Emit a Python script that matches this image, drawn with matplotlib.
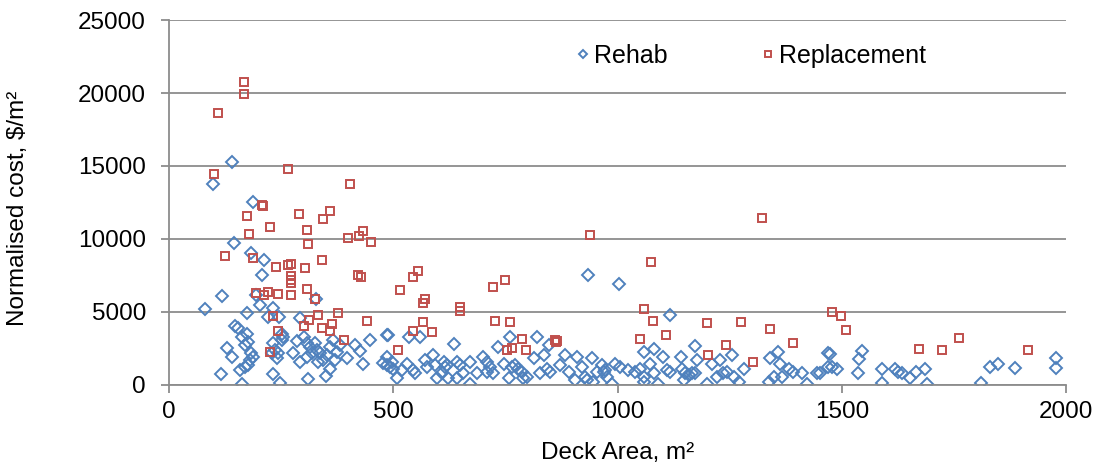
import numpy as np
import matplotlib
matplotlib.use("Agg")
import matplotlib.pyplot as plt

plt.rcParams["font.family"] = ["Liberation Sans", "DejaVu Sans"]

# Rehab points (deck area m2, normalised cost $/m2)
rehab_area = [
    140, 98, 187, 144, 182, 212, 207, 118, 193, 202, 233, 328, 81, 173, 245, 221, 292,
    147, 155, 116, 162, 248, 310, 349,
    173, 162, 177, 169, 129, 140, 184, 188, 181, 177, 158, 169,
    233, 236, 244, 229, 240, 251, 255, 251, 233, 276,
    285, 300, 307, 292, 307, 318, 314, 326, 329, 337, 333, 344, 352, 359, 366, 374, 370, 359, 381,
    396, 415, 425, 433, 448, 478, 485, 493, 485,
    489, 534, 560, 636, 760, 821, 734, 846, 883, 909, 944,
    485, 497, 500, 508, 519, 530, 545, 549, 571, 575, 589, 593, 597, 612, 616, 620, 608, 623,
    642, 649, 642, 656, 671, 671, 686, 701, 709, 716, 723, 709, 746, 757, 764, 772, 779, 786,
    790, 797, 813, 835, 827, 842, 850, 872, 891, 905, 920, 928, 932, 946, 954, 969, 976,
    934, 1004, 1116, 1173, 1357, 1058, 1080, 1102, 1142,
    965, 972, 987, 995, 1006, 1024, 1039, 1050, 1058, 1058, 1073, 1080, 1091, 1110, 1117,
    1143, 1151, 1147, 1158, 1166, 1177, 1173, 1199, 1210, 1221, 1229, 1236, 1244, 1255, 1259,
    1270, 1281, 1340, 1337, 1348, 1363, 1366, 1381, 1392, 1411, 1422, 1444, 1470, 1470,
    1474, 1545, 1537, 1478, 1489, 1535, 1589, 1589, 1619, 1624, 1634, 1651, 1666, 1684, 1690,
    1810, 1831, 1848, 1885, 1978, 1976, 1452,
]
rehab_cost = [
    15240, 13750, 12540, 9750, 9000, 8540, 7510, 6090, 6160, 5450, 5270, 5900, 5180, 4930, 4650, 4650, 4540,
    4030, 3900, 740, 80, 100, 380, 600,
    3510, 3280, 2940, 2710, 2530, 1910, 2140, 1910, 1680, 1340, 990, 1220,
    2830, 2370, 2140, 2140, 1800, 3510, 3280, 3050, 700, 2140,
    2980, 3280, 2830, 1570, 1910, 2140, 2590, 2830, 2370, 2140, 1570, 1680, 2020, 2590, 3050, 2250, 1680, 1110, 2710,
    1800, 2710, 2320, 1450, 3050, 1500, 1340, 1220, 3400,
    3400, 3280, 3280, 2780, 3280, 3280, 2590, 2710, 2020, 1910, 1840,
    1910, 1570, 1110, 430, 1000, 1450, 1000, 770, 1680, 1220, 2020, 1340, 430, 1570, 1220, 1340, 770, 430,
    1570, 1340, 430, 770, 1570, 80, 770, 1910, 1570, 1220, 770, 880, 1450, 430, 1220, 1340, 1110, 880,
    430, 540, 1800, 2020, 770, 1110, 880, 1340, 880, 310, 1220, 540, 310, 190, 880, 880, 540,
    7490, 6890, 4770, 2660, 2210, 2250, 2480, 1910, 1910,
    1340, 1000, 80, 1450, 1220, 1000, 880, 1110, 540, 190, 1450, 770, 80, 1000, 880,
    1110, 770, 310, 650, 770, 1680, 770, 80, 1450, 540, 1680, 770, 880, 2020, 540,
    190, 1110, 1800, 190, 540, 1450, 540, 1110, 880, 810, 80, 770, 2140, 1220,
    2110, 2320, 1730, 1220, 1100, 770, 1100, 150, 1110, 880, 770, 470, 880, 1060, 50,
    120, 1220, 1450, 1150, 1800, 1150, 770,
]

# Replacement points
repl_area = [
    168, 168, 109, 100, 265, 403,
    207, 210, 175, 290, 360, 343, 225, 178, 307, 309, 398, 423, 433, 450,
    126, 187, 341, 239, 265, 272, 304, 422, 429, 272, 272, 272, 307,
    195, 212, 221, 243, 271, 326, 376, 333, 231, 442, 312, 364, 302, 342, 360, 243, 390, 225,
    938, 554, 545, 515, 570, 567, 723, 749, 648, 648, 566, 545, 586, 726, 760, 787, 511,
    753, 764, 796, 861, 865, 863,
    1321, 1074, 1058, 1079, 1199, 1276, 1339, 1477, 1499, 1510, 1050, 1108, 1242, 1390,
    1202, 1301, 1672, 1723, 1760, 1915,
]
repl_cost = [
    20730, 19920, 18640, 14460, 14780, 13730,
    12310, 12250, 11580, 11710, 11880, 11330, 10780, 10320, 10600, 9620, 10030, 10210, 10530, 9770,
    8830, 8700, 8540, 8080, 8180, 8290, 8010, 7510, 7370, 7460, 7190, 6960, 6530,
    6320, 6140, 6360, 6210, 6140, 5860, 4950, 4810, 4720, 4380, 4420, 4150, 4010, 3880, 3670, 3670, 3050, 2210,
    10250, 7830, 7390, 6500, 5860, 5570, 6730, 7210, 5340, 5040, 4330, 3670, 3600, 4400, 4310, 3100, 2370,
    2410, 2520, 2370, 3050, 3000, 2900,
    11400, 8380, 5160, 4380, 4200, 4310, 3810, 4990, 4700, 3740, 3140, 3420, 2730, 2890,
    2040, 1590, 2460, 2370, 3210, 2350,
]

fig = plt.figure(figsize=(10.97, 4.68), dpi=100)
ax = fig.add_axes([0.154, 0.178, 0.818, 0.779])

ax.plot(rehab_area, rehab_cost, linestyle="none", marker="D", markersize=6.3,
        markerfacecolor="none", markeredgecolor="#4F81BD", markeredgewidth=1.4, label="Rehab")
ax.plot(repl_area, repl_cost, linestyle="none", marker="s", markersize=6.0,
        markerfacecolor="none", markeredgecolor="#C0504D", markeredgewidth=1.4, label="Replacement")

ax.set_xlim(0, 2000)
ax.set_ylim(0, 25000)
ax.set_xticks(np.arange(0, 2001, 500))
ax.set_yticks(np.arange(0, 25001, 5000))
ax.yaxis.grid(True, color="#8C8C8C", linewidth=1.3)
ax.set_axisbelow(True)
for s in ["top", "right"]:
    ax.spines[s].set_visible(False)
for s in ["left", "bottom"]:
    ax.spines[s].set_color("#8C8C8C")
    ax.spines[s].set_linewidth(1.3)
ax.tick_params(axis="both", colors="#8C8C8C", labelcolor="black", labelsize=17.5,
               length=5.5, width=1.3)
ax.tick_params(axis="y", pad=11)
ax.tick_params(axis="x", pad=6)

ax.set_xlabel("Deck Area, m²", fontsize=17.5)
ax.set_ylabel("Normalised cost, $/m²", fontsize=17.5)
ax.xaxis.set_label_coords(0.5, -0.158)
ax.yaxis.set_label_coords(-0.156, 0.484)

leg = ax.legend(loc="center", bbox_to_anchor=(0.650, 0.902), ncol=2, frameon=False,
                fontsize=18, markerscale=0.7, handlelength=0.4, handletextpad=0.25,
                columnspacing=3.8, borderpad=0)

fig.savefig("out.png", dpi=100)
